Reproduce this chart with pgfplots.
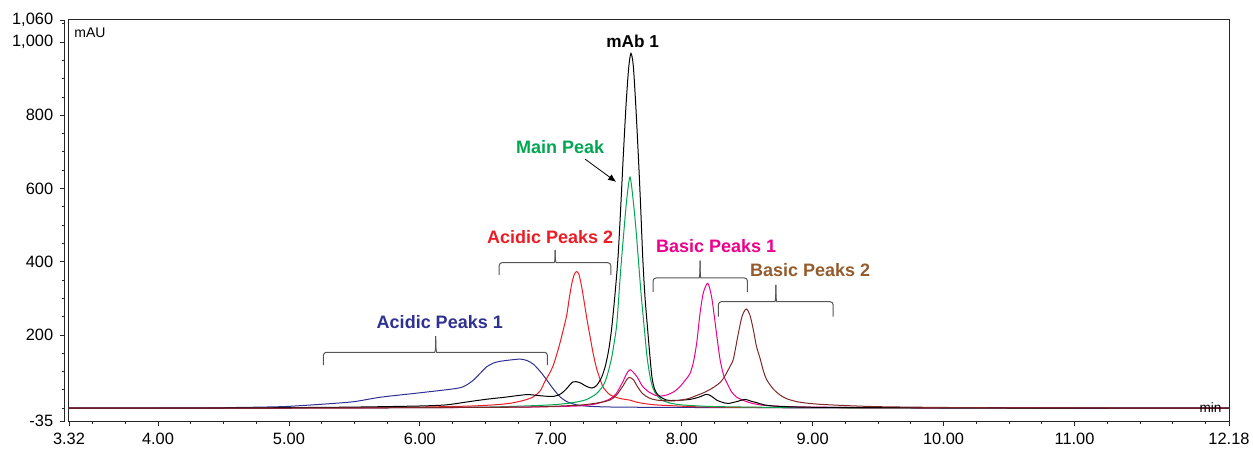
\documentclass[border=0pt]{standalone}
\usepackage{fontspec}
\setmainfont{Liberation Sans}
\usepackage{pgfplots}
\pgfplotsset{compat=1.18}
\usetikzlibrary{arrows.meta}

\definecolor{cblue}{RGB}{46,49,146}
\definecolor{cred}{RGB}{237,28,36}
\definecolor{cgreen}{RGB}{0,166,81}
\definecolor{cmag}{RGB}{236,0,140}
\definecolor{cbrown}{RGB}{128,40,40}
\definecolor{tbrown}{RGB}{148,92,46}
\definecolor{brk}{RGB}{85,85,85}

% curly bracket: left, centre, right, end y, bar y, tip y
\newcommand{\brk}[6]{%
  \draw[brk, line width=0.5pt, rounded corners=1.5pt]
    (axis cs:#1,#4) -- (axis cs:#1,#5) -- ([xshift=-2pt]axis cs:#2,#5)
    .. controls ([xshift=-0.4pt]axis cs:#2,#5) and (axis cs:#2,#5) .. (axis cs:#2,#6);
  \draw[brk, line width=0.5pt, rounded corners=1.5pt]
    (axis cs:#3,#4) -- (axis cs:#3,#5) -- ([xshift=2pt]axis cs:#2,#5)
    .. controls ([xshift=0.4pt]axis cs:#2,#5) and (axis cs:#2,#5) .. (axis cs:#2,#6);
}

\begin{document}
\begin{tikzpicture}
\begin{axis}[
  at={(0pt,0pt)}, anchor=south west,
  scale only axis, width=580pt, height=200.5pt,
  xmin=3.32, xmax=12.18, ymin=-35, ymax=1060,
  clip=false,
  axis line style={black!85, line width=0.5pt},
  tick align=outside, tick style={black!85, line width=0.4pt},
  major tick length=2.4pt, minor tick length=1.4pt,
  xtick={3.32,4,5,6,7,8,9,10,11,12.18},
  xticklabels={3.32,4.00,5.00,6.00,7.00,8.00,9.00,10.00,11.00,12.18},
  minor xtick={3.5,3.75,4.25,4.5,4.75,5.25,5.5,5.75,6.25,6.5,6.75,7.25,7.5,7.75,8.25,8.5,8.75,9.25,9.5,9.75,10.25,10.5,10.75,11.25,11.5,11.75,12},
  ytick={-35,200,400,600,800,1000,1060},
  yticklabels={-35,200,400,600,800,{1,000},{1,060}},
  minor ytick={0,50,100,150,250,300,350,450,500,550,650,700,750,850,900,950,1050},
  y tick style={xshift=-2pt},
  xtick pos=bottom, ytick pos=left,
  /pgf/number format/assume math mode=true,
  ticklabel style={font=\fontsize{8.2}{9}\selectfont},
  yticklabel style={xshift=-2pt},
  every axis plot/.append style={line width=0.5pt, smooth, tension=0.45},
]
\draw[black!85, line width=0.5pt] ([xshift=-2pt]rel axis cs:0,0) -- ([xshift=-2pt]rel axis cs:0,1);

% Acidic Peaks 1
\addplot[cblue] coordinates {
(3.32,0) (4.0,0.5) (4.5,1.5) (4.8,3) (5.0,5) (5.3,12) (5.5,18) (5.7,30) (6.0,42)
(6.28,54) (6.35,62) (6.41,77) (6.46,95) (6.51,113) (6.56,123) (6.613,128) (6.70,132)
(6.766,134) (6.82,130) (6.867,120) (6.92,100) (6.969,77) (7.02,52) (7.071,31) (7.122,18)
(7.198,9) (7.3,5) (7.5,3) (8.0,2) (9.0,1) (10.0,0.5) (12.18,0)};

% Acidic Peaks 2
\addplot[cred] coordinates {
(3.32,0) (5.0,0.5) (5.5,1) (6.0,3) (6.4,6) (6.6,10) (6.7,14) (6.8,22) (6.867,31)
(6.92,48) (6.956,74) (6.99,95) (7.02,118) (7.06,165) (7.096,215) (7.122,255) (7.14,298)
(7.16,340) (7.18,366) (7.198,373) (7.215,365) (7.235,333) (7.255,290) (7.275,245)
(7.30,195) (7.326,145) (7.35,108) (7.38,75) (7.402,56) (7.45,37) (7.504,29) (7.55,25)
(7.605,22) (7.65,17) (7.707,13) (7.8,9) (7.911,7) (8.1,4) (8.5,2) (9.5,1) (12.18,0)};

% Main Peak
\addplot[cgreen] coordinates {
(3.32,0) (5.0,0.5) (6.0,1.5) (6.5,3) (6.8,6) (7.0,9) (7.1,12) (7.2,17) (7.275,24)
(7.35,40) (7.40,62) (7.428,86) (7.46,130) (7.48,170) (7.504,230) (7.53,360) (7.555,470)
(7.58,570) (7.605,631) (7.63,565) (7.65,490) (7.669,405) (7.69,310) (7.713,222)
(7.735,140) (7.758,86) (7.78,55) (7.81,35) (7.85,22) (7.91,14) (8.0,9) (8.2,5)
(8.5,3) (9.0,1.5) (10.0,0.5) (12.18,0)};

% Basic Peaks 1
\addplot[cmag] coordinates {
(3.32,0) (5.0,0.5) (6.0,1.5) (6.8,3) (7.2,6) (7.35,12) (7.45,25) (7.50,40) (7.55,72)
(7.58,95) (7.605,105) (7.63,98) (7.66,85) (7.70,60) (7.75,44) (7.80,35) (7.835,33)
(7.886,36) (7.94,45) (7.987,59) (8.03,78) (8.064,95) (8.09,127) (8.115,180) (8.14,260)
(8.165,315) (8.199,341) (8.23,300) (8.267,200) (8.293,132) (8.32,90) (8.344,70)
(8.38,45) (8.42,30) (8.48,20) (8.53,14) (8.6,9) (8.7,6) (8.9,3.5) (9.3,2) (10.0,1) (12.18,0)};

% mAb 1
\addplot[black] coordinates {
(3.32,0) (4.5,0.5) (5.0,1.5) (5.5,3) (6.0,6) (6.2,9) (6.359,17) (6.5,24) (6.65,30)
(6.817,37) (6.92,34) (7.02,32) (7.08,40) (7.122,54) (7.17,72) (7.22,70) (7.27,60)
(7.313,55) (7.35,62) (7.39,86) (7.42,120) (7.445,165) (7.466,222) (7.49,310) (7.512,405)
(7.53,520) (7.552,678) (7.575,830) (7.595,930) (7.612,969) (7.63,935) (7.65,820)
(7.67,678) (7.685,560) (7.703,405) (7.72,300) (7.738,222) (7.755,150) (7.772,86)
(7.79,55) (7.81,40) (7.84,30) (7.886,22) (7.95,21) (8.064,24) (8.13,30) (8.191,38)
(8.23,32) (8.267,22) (8.31,16) (8.356,13) (8.42,18) (8.484,24) (8.53,19) (8.573,15)
(8.63,9) (8.70,6) (8.8,4) (9.0,2.5) (9.5,1.5) (10.5,0.5) (12.18,0)};

% Basic Peaks 2
\addplot[cbrown] coordinates {
(3.32,0) (5.0,0.5) (6.0,1.5) (6.8,3) (7.2,8) (7.35,14) (7.45,22) (7.50,35) (7.55,60)
(7.58,78) (7.60,84) (7.63,78) (7.66,60) (7.70,40) (7.75,28) (7.81,22) (7.94,20)
(8.05,26) (8.115,35) (8.166,42) (8.23,54) (8.293,70) (8.33,88) (8.37,115) (8.395,135)
(8.43,200) (8.46,250) (8.492,271) (8.52,255) (8.547,214) (8.57,170) (8.599,135)
(8.625,100) (8.65,77) (8.70,52) (8.751,36) (8.80,26) (8.878,18) (8.95,14) (9.061,10.5)
(9.261,7) (9.516,4) (10.0,2) (10.5,1) (12.18,0)};

% brackets
\brk{5.263}{6.121}{6.974}{117.9}{152.6}{197.1}
\brk{6.605}{7.033}{7.458}{363.7}{397.3}{432}
\brk{7.781}{8.140}{8.502}{317.3}{355.5}{402.7}
\brk{8.280}{8.719}{9.156}{249.8}{290.8}{336.4}

% labels
\node[font=\fontsize{9}{10}\selectfont\bfseries, text=cblue] at (axis cs:6.152,236) {Acidic Peaks 1};
\node[font=\fontsize{9}{10}\selectfont\bfseries, text=cred] at (axis cs:6.995,467) {Acidic Peaks 2};
\node[font=\fontsize{9}{10}\selectfont\bfseries, text=cmag] at (axis cs:8.263,443) {Basic Peaks 1};
\node[font=\fontsize{9}{10}\selectfont\bfseries, text=tbrown] at (axis cs:8.981,377) {Basic Peaks 2};
\node[font=\fontsize{9}{10}\selectfont\bfseries, text=cgreen] at (axis cs:7.071,713) {Main Peak};
\node[font=\fontsize{8.6}{10}\selectfont\bfseries] at (axis cs:7.625,1003) {mAb 1};
\draw[-{Latex[length=4pt,width=3.4pt]}, line width=0.4pt] (axis cs:7.262,680) -- (axis cs:7.499,618);
\node[font=\fontsize{7}{8}\selectfont, anchor=west, inner sep=0pt] at (axis cs:3.358,1024) {mAU};
\node[font=\fontsize{6.8}{8}\selectfont, anchor=east, inner sep=0pt] at (axis cs:12.125,1) {min};
\end{axis}
\pgfresetboundingbox
\path[use as bounding box] (-34.5pt,-15pt) rectangle (592pt,210.5pt);
\end{tikzpicture}
\end{document}
